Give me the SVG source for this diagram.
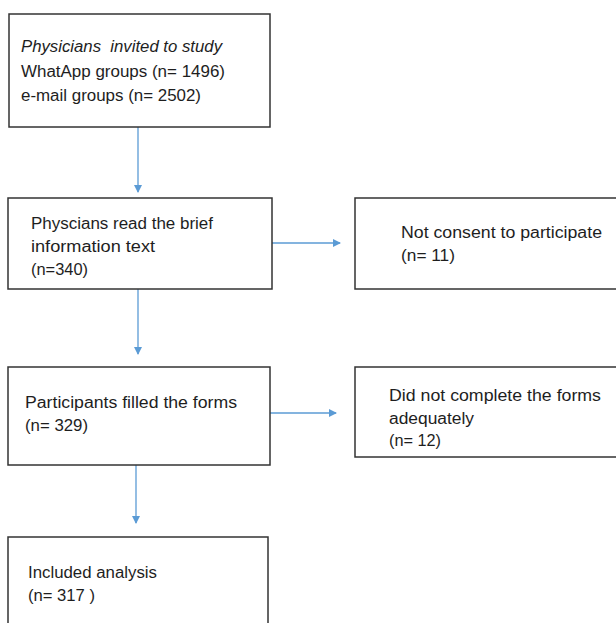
<svg xmlns="http://www.w3.org/2000/svg" width="616" height="623" viewBox="0 0 616 623">
<defs>
<style>
.box{fill:#fff;stroke:#333;stroke-width:1.5}
.t{font-family:"Liberation Sans",Arial,sans-serif;font-size:16px;fill:#1e1e1e}
.it{font-style:italic}
.c{stroke:#5b9bd5;stroke-width:1.3;fill:none}
</style>
<marker id="ah" markerWidth="8" markerHeight="8" refX="7" refY="4" orient="auto" markerUnits="userSpaceOnUse">
<path d="M0,0 L8,4 L0,8 Z" fill="#5b9bd5"/>
</marker>
</defs>
<rect width="616" height="623" fill="#fff"/>
<g id="connectors">
<line class="c" x1="138" y1="127" x2="138" y2="192" marker-end="url(#ah)"/>
<line class="c" x1="138" y1="289" x2="138" y2="354" marker-end="url(#ah)"/>
<line class="c" x1="136" y1="465" x2="136" y2="523" marker-end="url(#ah)"/>
<line class="c" x1="272" y1="243" x2="340" y2="243" marker-end="url(#ah)"/>
<line class="c" x1="270" y1="413" x2="336" y2="413" marker-end="url(#ah)"/>
</g>
<g id="n1">
<rect class="box" x="9" y="14" width="261" height="113"/>
<text class="t it" x="21" y="52" xml:space="preserve" textLength="201" lengthAdjust="spacingAndGlyphs">Physicians  invited to study</text>
<text class="t" x="21" y="77" textLength="204" lengthAdjust="spacingAndGlyphs">WhatApp groups (n= 1496)</text>
<text class="t" x="21" y="101" textLength="180" lengthAdjust="spacingAndGlyphs">e-mail groups (n= 2502)</text>
</g>
<g id="n2">
<rect class="box" x="8" y="198" width="264" height="91"/>
<text class="t" x="31" y="229" textLength="182" lengthAdjust="spacingAndGlyphs">Physcians read the brief</text>
<text class="t" x="31" y="252" textLength="124" lengthAdjust="spacingAndGlyphs">information text</text>
<text class="t" x="31" y="275" textLength="57" lengthAdjust="spacingAndGlyphs">(n=340)</text>
</g>
<g id="n3">
<rect class="box" x="355" y="198" width="264" height="91"/>
<text class="t" x="401" y="238" textLength="201" lengthAdjust="spacingAndGlyphs">Not consent to participate</text>
<text class="t" x="401" y="261" textLength="54" lengthAdjust="spacingAndGlyphs">(n= 11)</text>
</g>
<g id="n4">
<rect class="box" x="8" y="367" width="262" height="98"/>
<text class="t" x="25" y="408" textLength="212" lengthAdjust="spacingAndGlyphs">Participants filled the forms</text>
<text class="t" x="25" y="431" textLength="63" lengthAdjust="spacingAndGlyphs">(n= 329)</text>
</g>
<g id="n5">
<rect class="box" x="355" y="367" width="264" height="90"/>
<text class="t" x="389" y="401" textLength="212" lengthAdjust="spacingAndGlyphs">Did not complete the forms</text>
<text class="t" x="389" y="424" textLength="85" lengthAdjust="spacingAndGlyphs">adequately</text>
<text class="t" x="389" y="446" textLength="52" lengthAdjust="spacingAndGlyphs">(n= 12)</text>
</g>
<g id="n6">
<rect class="box" x="8" y="537" width="260" height="90"/>
<text class="t" x="28" y="578" textLength="129" lengthAdjust="spacingAndGlyphs">Included analysis</text>
<text class="t" x="28" y="601" textLength="67" lengthAdjust="spacingAndGlyphs">(n= 317 )</text>
</g>
</svg>
